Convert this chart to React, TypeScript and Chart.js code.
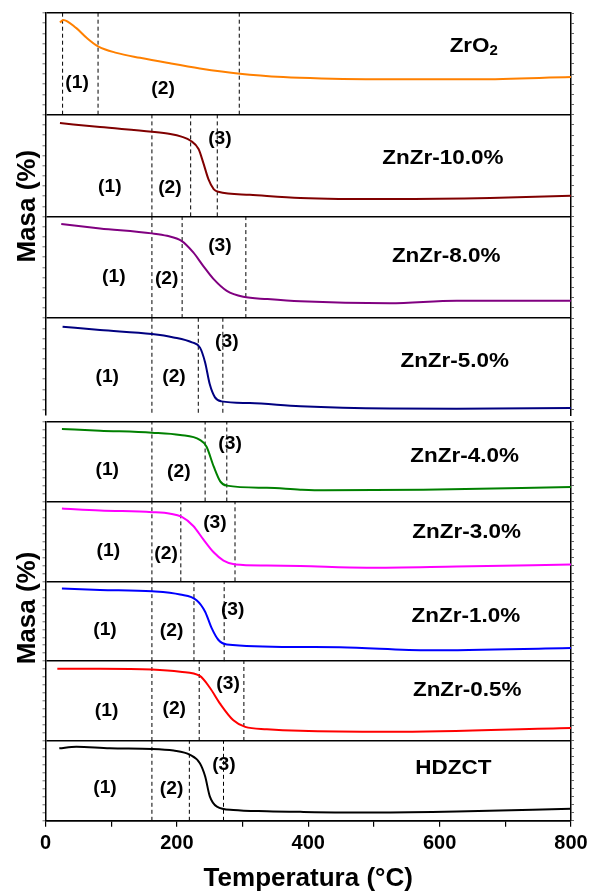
import React, { useEffect, useRef } from 'react';
import { Chart, registerables } from 'chart.js';

Chart.register(...registerables);

// ---------- DATA (temperature °C, relative mass position inside each panel 0..1) ----------
const T_ZRO2 = [22, 27, 47, 63, 80, 108, 144, 185, 235, 296, 362, 420, 565, 656, 800];
const M_ZRO2 = [0.906, 0.932, 0.851, 0.754, 0.672, 0.608, 0.559, 0.51, 0.455, 0.403, 0.37, 0.357, 0.348, 0.348, 0.37];
const S_ZRO2 = [26, 80, 295];

const T_Z100 = [22, 83, 162, 190, 207, 221, 233, 240, 248, 256, 263, 311, 388, 524, 677, 800];
const M_Z100 = [0.918, 0.878, 0.833, 0.81, 0.784, 0.744, 0.662, 0.531, 0.367, 0.269, 0.242, 0.213, 0.182, 0.17, 0.18, 0.203];
const S_Z100 = [162, 221, 261.5];

const T_Z80 = [24, 83, 162, 185, 207, 225, 240, 256, 276, 301, 338, 388, 524, 626, 800];
const M_Z80 = [0.924, 0.882, 0.833, 0.809, 0.76, 0.646, 0.514, 0.383, 0.268, 0.209, 0.187, 0.165, 0.145, 0.17, 0.17];
const S_Z80 = [162, 208, 305];

const T_Z50 = [26, 83, 162, 195, 223, 235, 243, 250, 258, 268, 311, 388, 524, 626, 800];
const M_Z50 = [0.915, 0.882, 0.843, 0.81, 0.761, 0.712, 0.564, 0.351, 0.22, 0.181, 0.164, 0.132, 0.11, 0.108, 0.115];
const S_Z50 = [162, 232.6, 270];

const T_Z40 = [25, 83, 162, 205, 235, 245, 256, 266, 276, 337, 388, 423, 575, 800];
const M_Z40 = [0.909, 0.888, 0.863, 0.834, 0.772, 0.689, 0.44, 0.253, 0.199, 0.171, 0.149, 0.141, 0.149, 0.183];
const S_Z40 = [162, 243, 276];

const T_Z30 = [25, 83, 162, 190, 207, 225, 240, 256, 271, 289, 337, 388, 489, 626, 800];
const M_Z30 = [0.913, 0.888, 0.867, 0.848, 0.81, 0.694, 0.529, 0.364, 0.26, 0.211, 0.198, 0.191, 0.17, 0.186, 0.211];
const S_Z30 = [162, 206, 288.5];

const T_Z10 = [25, 83, 162, 205, 230, 243, 253, 263, 276, 388, 448, 585, 800];
const M_Z10 = [0.909, 0.893, 0.876, 0.835, 0.764, 0.62, 0.413, 0.268, 0.21, 0.177, 0.174, 0.136, 0.165];
const S_Z10 = [162, 226, 272];

const T_Z05 = [18, 83, 162, 205, 235, 250, 266, 286, 304, 337, 388, 524, 800];
const M_Z05 = [0.905, 0.905, 0.896, 0.868, 0.815, 0.67, 0.464, 0.259, 0.177, 0.148, 0.127, 0.115, 0.164];
const S_Z05 = [162, 234, 302];

const T_HDZ = [21, 47, 98, 162, 195, 220, 235, 243, 250, 261, 286, 337, 388, 499, 626, 800];
const M_HDZ = [0.908, 0.929, 0.908, 0.901, 0.88, 0.826, 0.722, 0.558, 0.31, 0.178, 0.136, 0.12, 0.112, 0.103, 0.115, 0.152];
const S_HDZ = [162, 219, 271];

const X_TICKS = [0, 100, 200, 300, 400, 500, 600, 700, 800];
const X_TITLE = 'Temperatura (°C)';
const Y_TITLE = 'Masa (%)';

type Panel = { id: string; label: string; color: string; T: number[]; M: number[]; S: number[] };

const TOP_PANELS: Panel[] = [
  { id: 'zro2', label: 'ZrO2', color: '#FF8000', T: T_ZRO2, M: M_ZRO2, S: S_ZRO2 },
  { id: 'z100', label: 'ZnZr-10.0%', color: '#800000', T: T_Z100, M: M_Z100, S: S_Z100 },
  { id: 'z80', label: 'ZnZr-8.0%', color: '#800080', T: T_Z80, M: M_Z80, S: S_Z80 },
  { id: 'z50', label: 'ZnZr-5.0%', color: '#000080', T: T_Z50, M: M_Z50, S: S_Z50 },
];
const BOTTOM_PANELS: Panel[] = [
  { id: 'z40', label: 'ZnZr-4.0%', color: '#008000', T: T_Z40, M: M_Z40, S: S_Z40 },
  { id: 'z30', label: 'ZnZr-3.0%', color: '#FF00FF', T: T_Z30, M: M_Z30, S: S_Z30 },
  { id: 'z10', label: 'ZnZr-1.0%', color: '#0000FF', T: T_Z10, M: M_Z10, S: S_Z10 },
  { id: 'z05', label: 'ZnZr-0.5%', color: '#FF0000', T: T_Z05, M: M_Z05, S: S_Z05 },
  { id: 'hdz', label: 'HDZCT', color: '#000000', T: T_HDZ, M: M_HDZ, S: S_HDZ },
];

// ---------- TEXT LAYOUT (positions in data units: [°C, panel fraction]) ----------
const TEXT_LAYOUT: Record<string, { stages: number[][]; name: number[] }> = {
  zro2: { stages: [[48, 0.315], [179, 0.25]], name: [652, 0.674] },
  z100: { stages: [[98, 0.291], [189.5, 0.276], [265.6, 0.761]], name: [605, 0.572] },
  z80: { stages: [[104, 0.4], [184.5, 0.383], [265.6, 0.711]], name: [610, 0.613] },
  z50: { stages: [[94, 0.417], [195.6, 0.417], [276, 0.761]], name: [623, 0.58] },
  z40: { stages: [[94, 0.39], [203, 0.365], [281, 0.722]], name: [638, 0.564] },
  z30: { stages: [[95.6, 0.384], [183.5, 0.343], [258, 0.736]], name: [641, 0.612] },
  z10: { stages: [[90.6, 0.385], [192, 0.372], [285, 0.64]], name: [640, 0.558] },
  z05: { stages: [[93, 0.374], [196, 0.402], [278, 0.711]], name: [642, 0.63] },
  hdz: { stages: [[90.6, 0.405], [192, 0.393], [271.7, 0.703]], name: [621, 0.66] },
};

const FONT = '"Liberation Sans", Arial, Helvetica, sans-serif';
const STRETCH = 1.07;

function drawStretched(ctx: CanvasRenderingContext2D, text: string, x: number, y: number, size: number) {
  ctx.save();
  ctx.translate(x, y);
  ctx.scale(STRETCH, 1);
  ctx.font = `bold ${size}px ${FONT}`;
  ctx.textAlign = 'center';
  ctx.textBaseline = 'middle';
  ctx.fillStyle = '#000';
  ctx.fillText(text, 0, 0);
  ctx.restore();
}

function drawZrO2(ctx: CanvasRenderingContext2D, x: number, y: number) {
  ctx.save();
  ctx.translate(x, y);
  ctx.scale(STRETCH, 1);
  ctx.fillStyle = '#000';
  ctx.textBaseline = 'middle';
  ctx.textAlign = 'left';
  ctx.font = `bold 21px ${FONT}`;
  const w1 = ctx.measureText('ZrO').width;
  ctx.font = `bold 14px ${FONT}`;
  const w2 = ctx.measureText('2').width;
  const start = -(w1 + w2) / 2;
  ctx.font = `bold 21px ${FONT}`;
  ctx.fillText('ZrO', start, 0);
  ctx.font = `bold 14px ${FONT}`;
  ctx.fillText('2', start + w1, 5);
  ctx.restore();
}

function makeTextPlugin(panels: Panel[], masaValue: number) {
  return {
    id: 'panelText',
    afterDatasetsDraw(chart: any) {
      const { ctx, chartArea } = chart;
      const xs = chart.scales.x;
      const ys = chart.scales.y;
      const n = panels.length;
      ctx.save();
      ctx.beginPath();
      ctx.rect(chartArea.left, chartArea.top, chartArea.right - chartArea.left, chartArea.bottom - chartArea.top);
      ctx.clip();
      panels.forEach((p, i) => {
        const base = n - 1 - i;
        const lay = TEXT_LAYOUT[p.id];
        lay.stages.forEach((s, k) => {
          drawStretched(ctx, `(${k + 1})`, xs.getPixelForValue(s[0]), ys.getPixelForValue(base + s[1]), 18);
        });
        const px = xs.getPixelForValue(lay.name[0]);
        const py = ys.getPixelForValue(base + lay.name[1]);
        if (p.id === 'zro2') drawZrO2(ctx, px, py);
        else drawStretched(ctx, p.label, px, py, 21);
      });
      ctx.restore();
      ctx.save();
      ctx.translate(chartArea.left - 17.5, ys.getPixelForValue(masaValue));
      ctx.rotate(-Math.PI / 2);
      ctx.font = `bold 26px ${FONT}`;
      ctx.textAlign = 'center';
      ctx.textBaseline = 'middle';
      ctx.fillStyle = '#000';
      ctx.fillText(Y_TITLE, 0, 0);
      ctx.restore();
    },
  };
}

function buildDatasets(panels: Panel[]) {
  const n = panels.length;
  const ds: any[] = [];
  panels.forEach((p, i) => {
    const base = n - 1 - i;
    p.S.forEach((s) => {
      ds.push({
        data: [{ x: s, y: base }, { x: s, y: base + 1 }],
        borderColor: '#000',
        borderWidth: 1,
        borderDash: [4, 3],
        pointRadius: 0,
        tension: 0,
        order: 2,
      });
    });
  });
  panels.forEach((p, i) => {
    const base = n - 1 - i;
    ds.push({
      label: p.label,
      data: p.T.map((t, k) => ({ x: t, y: base + p.M[k] })),
      borderColor: p.color,
      borderWidth: 2,
      pointRadius: 0,
      cubicInterpolationMode: 'monotone',
      order: 1,
    });
  });
  return ds;
}

const isInt = (v: number) => Math.abs(v - Math.round(v)) < 1e-6;

function minorTicks(min: number, max: number) {
  const out: { value: number }[] = [];
  for (let k = Math.ceil(min * 10 - 1e-6); k <= Math.round(max * 10); k++) out.push({ value: k / 10 });
  return out;
}

function yScales(min: number, max: number) {
  return {
    y: {
      type: 'linear',
      position: 'left',
      min,
      max,
      afterBuildTicks: (s: any) => { s.ticks = minorTicks(min, max); },
      ticks: { display: false },
      grid: {
        color: (c: any) => (c.tick && isInt(c.tick.value) ? '#000' : 'rgba(0,0,0,0)'),
        lineWidth: 1.4,
        tickLength: 3,
        tickColor: '#999',
      },
      border: { display: true, color: '#000', width: 1.5 },
    },
    y2: {
      type: 'linear',
      position: 'right',
      min,
      max,
      afterBuildTicks: (s: any) => { s.ticks = minorTicks(min, max); },
      ticks: { display: false },
      grid: { drawOnChartArea: false, tickLength: 3, tickColor: '#666' },
      border: { display: true, color: '#000', width: 1.5 },
    },
  };
}

export default function App() {
  const topRef = useRef<HTMLCanvasElement>(null);
  const botRef = useRef<HTMLCanvasElement>(null);

  useEffect(() => {
    const topMin = 0.047;
    const top = new Chart(topRef.current as HTMLCanvasElement, {
      type: 'line',
      data: { datasets: buildDatasets(TOP_PANELS) },
      options: {
        animation: false,
        responsive: false,
        maintainAspectRatio: false,
        layout: { padding: { top: 13, bottom: 3, left: 42.5, right: 15 } },
        plugins: { legend: { display: false }, tooltip: { enabled: false } },
        scales: {
          x: { type: 'linear', min: 0, max: 800, display: false },
          ...yScales(topMin, 4),
        } as any,
      },
      plugins: [makeTextPlugin(TOP_PANELS, 2.1)],
    } as any);

    const bot = new Chart(botRef.current as HTMLCanvasElement, {
      type: 'line',
      data: { datasets: buildDatasets(BOTTOM_PANELS) },
      options: {
        animation: false,
        responsive: false,
        maintainAspectRatio: false,
        layout: { padding: { top: 21.7, bottom: 0, left: 42.5, right: 15 } },
        plugins: { legend: { display: false }, tooltip: { enabled: false } },
        scales: {
          x: {
            type: 'linear',
            position: 'bottom',
            min: 0,
            max: 800,
            afterBuildTicks: (s: any) => { s.ticks = X_TICKS.map((v) => ({ value: v })); },
            afterFit: (s: any) => { s.paddingLeft = 0; s.paddingRight = 0; },
            ticks: {
              autoSkip: false,
              maxRotation: 0,
              minRotation: 0,
              padding: 5,
              color: '#000',
              font: { family: FONT, size: 20, weight: 'bold' },
              callback: (v: any) => (Number(v) % 200 === 0 ? String(v) : ''),
            },
            grid: { drawOnChartArea: false, tickLength: 6, tickColor: '#000', lineWidth: 1.2 },
            border: { display: true, color: '#000', width: 1.5 },
            title: {
              display: true,
              text: X_TITLE,
              color: '#000',
              font: { family: FONT, size: 26, weight: 'bold' },
              padding: { top: 2, bottom: 0 },
            },
          },
          ...yScales(0, 5),
        } as any,
      },
      plugins: [makeTextPlugin(BOTTOM_PANELS, 2.666)],
    } as any);

    return () => {
      top.destroy();
      bot.destroy();
    };
  }, []);

  return (
    <div style={{ position: 'absolute', left: 0, top: 0, width: 589, height: 894, background: '#fff' }}>
      <canvas ref={topRef} width={589} height={418} style={{ position: 'absolute', left: 0, top: 0, width: 589, height: 418 }} />
      <canvas ref={botRef} width={589} height={494} style={{ position: 'absolute', left: 0, top: 400, width: 589, height: 494 }} />
    </div>
  );
}
